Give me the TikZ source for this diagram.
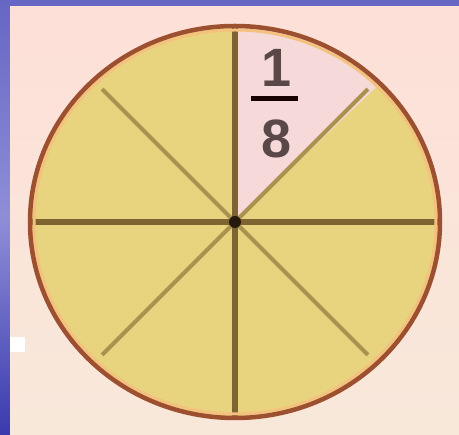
\documentclass[tikz,border=0pt]{standalone}
\usepackage{fontspec}
\setmainfont{Liberation Sans}
\usetikzlibrary{calc}
\definecolor{bgpink}{HTML}{FDE0D8}
\definecolor{bgbeige}{HTML}{F8E8DA}
\definecolor{slice}{HTML}{E8D47E}
\definecolor{pinkslice}{HTML}{F6DADA}
\definecolor{ring}{HTML}{9C5030}
\definecolor{halo}{HTML}{F4C27E}
\definecolor{mainline}{HTML}{7E6430}
\definecolor{diagline}{HTML}{AA924E}
\definecolor{digit}{HTML}{5A4848}
\definecolor{blueA}{HTML}{6666C4}
\definecolor{blueB}{HTML}{8E8ED8}
\definecolor{blueC}{HTML}{3A3AAE}
\tikzset{
  mainspoke/.style={draw=mainline, line width=6pt},
  diagspoke/.style={draw=diagline, line width=4pt},
  digitnode/.style={text=digit, font=\fontsize{54}{54}\selectfont\bfseries, inner sep=0pt}
}
\begin{document}
\begin{tikzpicture}[x=1pt,y=1pt]
\useasboundingbox (0,0) rectangle (459,435);
% blue frame
\shade[top color=blueA, bottom color=blueC, middle color=blueB] (0,0) rectangle (10,435);
\fill[blueA] (10,428) rectangle (459,435);
% background
\shade[top color=bgpink, bottom color=bgbeige] (10,0) rectangle (459,428);
\fill[white] (10,83) rectangle (25,98);
% circle
\coordinate (c) at (235,213);
\fill[slice] (c) ellipse [x radius=206, y radius=197];
\fill[pinkslice] (c) -- ++(0,197) arc[start angle=90, end angle=45, x radius=206, y radius=197] -- cycle;
% spokes
\foreach \a in {45,135,225,315}
  \draw[diagspoke] (c) -- ++(\a:188);
\draw[mainspoke] ($(c)+(0,-197)$) -- ($(c)+(0,197)$);
\draw[mainspoke] ($(c)+(-206,0)$) -- ($(c)+(206,0)$);
\fill[black!80!brown] (c) circle (6);
% ring
\draw[halo, line width=3pt] (c) ellipse [x radius=201, y radius=192];
\draw[ring, line width=4.5pt] (c) ellipse [x radius=205, y radius=196];
% fraction
\node[digitnode] (one) at (277,367) {1};
\node[digitnode] (eight) at (277,296) {8};
\draw[line width=5pt, draw=black!90!red] (251,336) -- (298,336);
\end{tikzpicture}
\end{document}
